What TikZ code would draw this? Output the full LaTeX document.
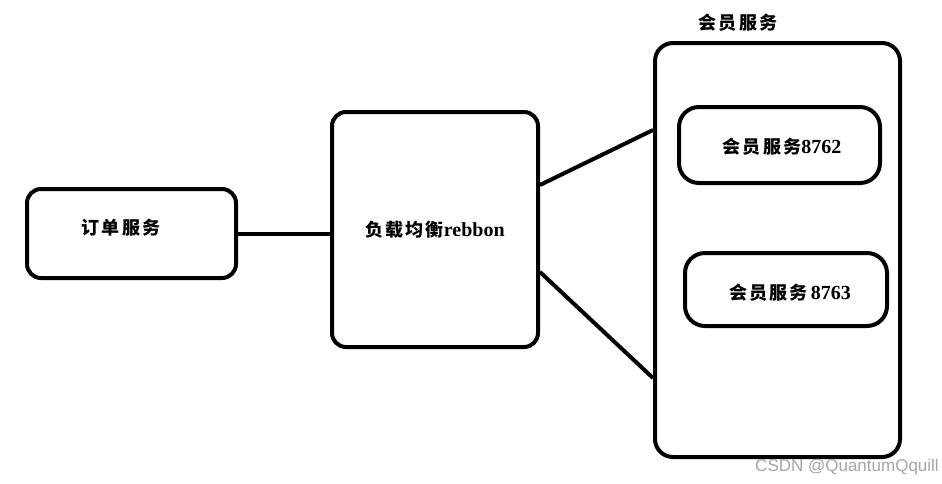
\documentclass[tikz,border=0pt]{standalone}
\usepackage{fontspec}
\setmainfont{Liberation Serif}
\newfontfamily\cjk[LetterSpace=12]{Noto Sans CJK SC}
\newfontfamily\lat{Liberation Serif}
\newfontfamily\wmfont{Liberation Sans}
\newcommand{\latxt}[1]{{\lat\bfseries\fontsize{20}{22}\selectfont #1}}
\begin{document}
\begin{tikzpicture}[x=1pt,y=-1pt,
  box/.style={draw=black,line width=4pt,rounded corners=14pt,rectangle,inner sep=0pt},
  ibox/.style={draw=black,line width=4pt,rounded corners=20pt,rectangle,inner sep=0pt},
  conn/.style={draw=black,line width=4pt},
  lbl/.style={font=\cjk\bfseries\fontsize{18}{20}\selectfont,inner sep=0pt,anchor=center}]
\useasboundingbox (0,0) rectangle (942,483);
% boxes
\node[box,minimum width=209pt,minimum height=89pt] (order) at (131.5,233.5) {};
\node[box,minimum width=206pt,minimum height=235pt] (lb) at (435,229.5) {};
\node[box,rounded corners=18pt,minimum width=245pt,minimum height=414pt] (outer) at (777.5,250) {};
\node[ibox,minimum width=201pt,minimum height=76pt] (m1) at (779.5,145) {};
\node[ibox,minimum width=202pt,minimum height=73pt] (m2) at (786,289.5) {};
% labels
\node[lbl] (t1) at (121,228) {订单服务};
\node[lbl] (t2) at (435,230) {负载均衡\latxt{rebbon}};
\node[lbl] (t3) at (738,23) {会员服务};
\node[lbl] (t4) at (782,147) {会员服务\latxt{8762}};
\node[lbl] (t5) at (790,293) {会员服务\,\latxt{8763}};
\node[font=\wmfont\fontsize{17}{19}\selectfont,text=black!35,inner sep=0pt] (wm) at (847,467) {CSDN @QuantumQquill};
% connectors
\draw[conn] (order.east) -- (order.east -| lb.west);
\draw[conn] ([yshift=-42.5pt]lb.east) -- ([yshift=-128pt]outer.west);
\draw[conn] ([yshift=44.5pt]lb.east) -- ([yshift=120pt]outer.west);
\end{tikzpicture}
\end{document}
